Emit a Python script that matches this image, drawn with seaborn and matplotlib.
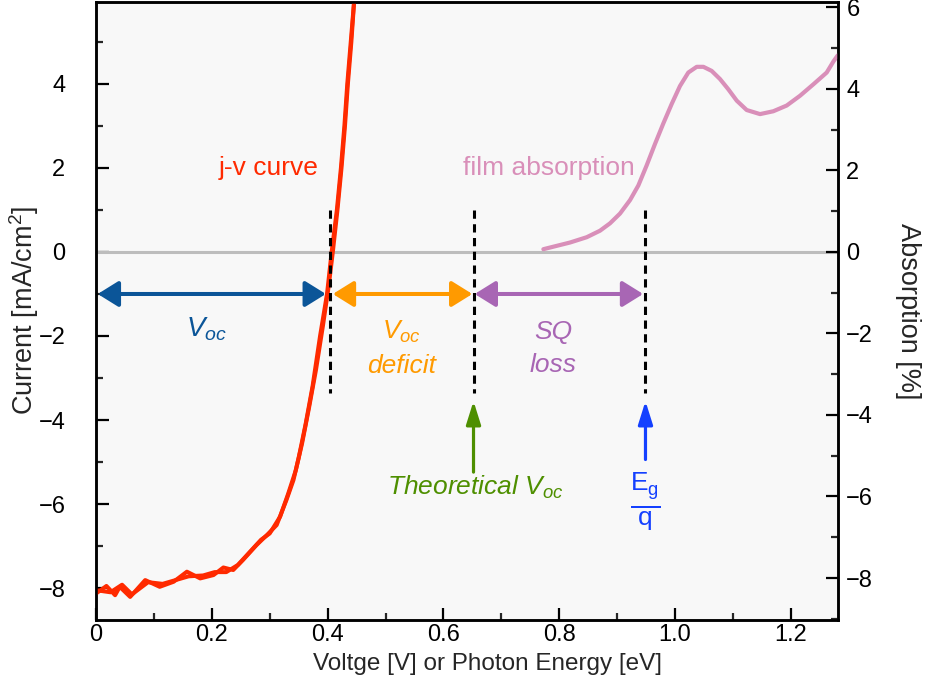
import matplotlib
matplotlib.use("Agg")
import matplotlib.pyplot as plt
import seaborn as sns
import pandas as pd
from matplotlib.ticker import MultipleLocator

# ---------------- data ----------------
jv_a_v = [0.000, 0.018, 0.033, 0.041, 0.059, 0.085, 0.110, 0.134, 0.157, 0.180, 0.203,
          0.220, 0.237, 0.254, 0.277, 0.295, 0.312, 0.329, 0.341, 0.350, 0.362, 0.374,
          0.387, 0.399, 0.407, 0.416, 0.423, 0.429, 0.434, 0.440, 0.446]
jv_a_j = [-8.13, -7.95, -8.17, -7.97, -8.21, -7.81, -7.97, -7.85, -7.61, -7.77, -7.69,
          -7.51, -7.57, -7.33, -6.98, -6.74, -6.50, -5.90, -5.43, -4.90, -4.10, -3.20,
          -2.00, -1.00, 0.00, 1.00, 2.00, 3.00, 4.00, 5.00, 6.00]
jv_b_v = [0.000, 0.025, 0.045, 0.062, 0.090, 0.115, 0.140, 0.160, 0.185, 0.205, 0.225,
          0.245, 0.265, 0.285, 0.300, 0.318, 0.332, 0.345, 0.356, 0.368, 0.380, 0.392,
          0.402, 0.409, 0.417, 0.424, 0.430, 0.435, 0.441, 0.446]
jv_b_j = [-8.05, -8.10, -7.92, -8.15, -7.86, -7.90, -7.80, -7.72, -7.70, -7.62, -7.62,
          -7.45, -7.15, -6.85, -6.70, -6.30, -5.75, -5.20, -4.55, -3.70, -2.80, -1.75,
          -0.80, 0.00, 1.00, 2.00, 3.00, 4.00, 5.00, 6.00]

abs_e = [0.7726, 0.8187, 0.8475, 0.8705, 0.8877, 0.905, 0.9223, 0.9367, 0.951, 0.9655,
         0.9798, 0.9943, 1.0086, 1.023, 1.0375, 1.049, 1.0633, 1.0777, 1.092, 1.1066,
         1.1238, 1.1468, 1.1698, 1.1929, 1.2159, 1.2389, 1.262, 1.2735, 1.281]
abs_pct = [0.066, 0.23, 0.36, 0.52, 0.70, 0.94, 1.27, 1.63, 2.12, 2.65,
           3.15, 3.63, 4.07, 4.40, 4.54, 4.54, 4.44, 4.24, 3.99, 3.71,
           3.48, 3.38, 3.45, 3.59, 3.83, 4.11, 4.40, 4.67, 4.82]

v_oc = 0.405
v_oc_theory = 0.652
e_gap = 0.949

x_ticks = [0.0, 0.2, 0.4, 0.6, 0.8, 1.0, 1.2]
x_tick_labels = ["0", "0.2", "0.4", "0.6", "0.8", "1.0", "1.2"]

# ---------------- style ----------------
sns.set_theme(style="ticks")
plt.rcParams['font.family'] = ['Liberation Sans', 'DejaVu Sans']
plt.rcParams['mathtext.fontset'] = 'custom'
plt.rcParams['mathtext.rm'] = 'Liberation Sans'
plt.rcParams['mathtext.it'] = 'Liberation Sans:italic'
plt.rcParams['mathtext.bf'] = 'Liberation Sans:bold'

RED = '#ff2a00'
PINK = '#d98fb9'
BLUE_D = '#0b5598'
ORANGE = '#ff9a00'
PURPLE = '#a866b4'
GREEN = '#4e8f00'
BLUE = '#1440ff'

fig = plt.figure(figsize=(9.25, 6.87), dpi=100)
ax = fig.add_axes([96/925, 67/687, 742/925, 618/687])
ax.set_facecolor('#f8f8f8')
ax2 = ax.twinx()

ax.set_xlim(0, 1.2815)
ax.set_ylim(-8.76, 5.95)
ax2.set_ylim(-9.03, 6.13)

# zero line
ax.axhline(0, color='#bdbdbd', lw=2.2, zorder=1)

df_a = pd.DataFrame({'V': jv_a_v, 'J': jv_a_j})
df_b = pd.DataFrame({'V': jv_b_v, 'J': jv_b_j})
sns.lineplot(data=df_a, x='V', y='J', ax=ax, color=RED, lw=2.9, sort=False, estimator=None, zorder=4)
sns.lineplot(data=df_b, x='V', y='J', ax=ax, color=RED, lw=2.9, sort=False, estimator=None, zorder=4)

df_abs = pd.DataFrame({'E': abs_e, 'A': abs_pct})
sns.lineplot(data=df_abs, x='E', y='A', ax=ax2, color=PINK, lw=3.0, sort=False, estimator=None)

# dashed vertical markers
for xv in [v_oc, v_oc_theory, e_gap]:
    ax.plot([xv, xv], [1.0, -3.35], color='black', lw=2.2, ls=(0, (2.7, 1.8)), zorder=5)

# horizontal double arrows
def harrow(x0, x1, color):
    ax.annotate('', xy=(x1, -1.0), xytext=(x0, -1.0),
                arrowprops=dict(arrowstyle='<|-|>,head_length=0.45,head_width=0.28',
                                color=color, lw=2.9, shrinkA=0, shrinkB=0,
                                mutation_scale=28), zorder=6)

harrow(0.003, v_oc - 0.008, BLUE_D)
harrow(v_oc + 0.004, v_oc_theory - 0.002, ORANGE)
harrow(v_oc_theory + 0.002, e_gap - 0.004, PURPLE)

# vertical arrows
def varrow(xv, y0, y1, color):
    ax.annotate('', xy=(xv, y1), xytext=(xv, y0),
                arrowprops=dict(arrowstyle='-|>,head_length=0.7,head_width=0.22',
                                color=color, lw=2.3, shrinkA=0, shrinkB=0,
                                mutation_scale=20))

varrow(v_oc_theory, -5.24, -3.55, GREEN)
varrow(e_gap, -4.94, -3.55, BLUE)

fs = 19
ax.text(0.299, 2.0, 'j-v curve', color=RED, fontsize=fs, ha='center', va='center')
ax.text(0.782, 2.0, 'film absorption', color=PINK, fontsize=fs, ha='center', va='center')
ax.text(0.19, -1.85, r'$V_{oc}$', color=BLUE_D, fontsize=fs+1, ha='center', va='center')
ax.text(0.527, -2.3, r'$V_{oc}$' + '\n' + 'deficit', color=ORANGE, fontsize=fs,
        ha='center', va='center', style='italic', linespacing=1.5)
ax.text(0.79, -2.3, 'SQ\nloss', color=PURPLE, fontsize=fs, ha='center', va='center',
        style='italic', linespacing=1.5)
ax.text(0.655, -5.6, r'Theoretical $V_{oc}$', color=GREEN, fontsize=fs, ha='center',
        va='center', style='italic')
ax.text(e_gap, -5.95, r'$\frac{\mathrm{E_g}}{\mathrm{q}}$', color=BLUE, fontsize=27,
        ha='center', va='center')

# axes styling
ax.set_xticks(x_ticks)
ax.set_xticklabels(x_tick_labels)
ax.xaxis.set_minor_locator(MultipleLocator(0.1))
ax.yaxis.set_major_locator(MultipleLocator(2))
ax.yaxis.set_minor_locator(MultipleLocator(1))
ax2.yaxis.set_major_locator(MultipleLocator(2))
ax2.yaxis.set_minor_locator(MultipleLocator(1))

for a in (ax, ax2):
    for s in a.spines.values():
        s.set_linewidth(1.8)
        s.set_color('black')
    a.tick_params(which='major', direction='in', length=9, width=1.6, labelsize=17, colors='black')
    a.tick_params(which='minor', direction='in', length=4.8, width=1.6)
ax.tick_params(axis='x', top=False, which='both', pad=3)
ax.tick_params(axis='y', right=False, which='both', pad=22)
ax2.tick_params(axis='y', pad=6)

ax.set_xlabel('Voltge [V] or Photon Energy [eV]', fontsize=17.5, labelpad=5)
ax.xaxis.label.set_x(0.528)
ax.set_ylabel(r'Current [mA/cm$^{2}$]', fontsize=19.5, labelpad=-2)
ax2.set_ylabel('Absorption [%]', fontsize=19.5, rotation=270, labelpad=34)
ax2.set_xlim(0, 1.2815)

fig.savefig('out.png', dpi=100)
